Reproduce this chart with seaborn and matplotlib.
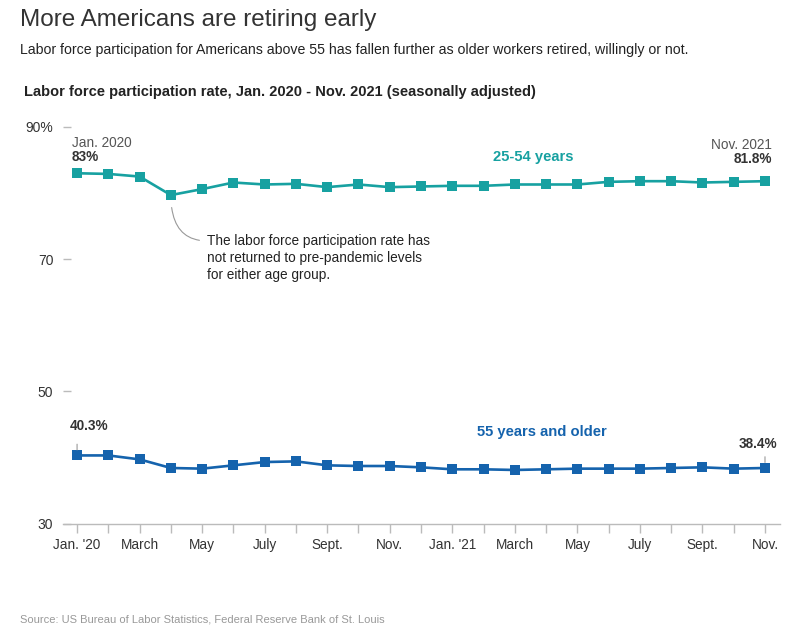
import matplotlib
matplotlib.use('Agg')
import matplotlib.pyplot as plt
import seaborn as sns
import pandas as pd

months = list(range(23))
tick_labels = ["Jan. '20", '', 'March', '', 'May', '', 'July', '', 'Sept.', '', 'Nov.', '',
               "Jan. '21", '', 'March', '', 'May', '', 'July', '', 'Sept.', '', 'Nov.']
prime_age = [83.0, 82.9, 82.5, 79.7, 80.6, 81.6, 81.3, 81.4, 80.9, 81.3, 80.9, 81.0,
             81.1, 81.1, 81.3, 81.3, 81.3, 81.7, 81.8, 81.8, 81.6, 81.7, 81.8]
older = [40.3, 40.3, 39.7, 38.4, 38.3, 38.8, 39.3, 39.4, 38.8, 38.7, 38.7, 38.5,
         38.2, 38.2, 38.1, 38.2, 38.3, 38.3, 38.3, 38.4, 38.5, 38.3, 38.4]
y_ticks = [30, 50, 70, 90]
y_tick_labels = ['30', '50', '70', '90%']

TEAL = '#17a1a1'
BLUE = '#1563ad'
DARK = '#333333'
GRID = '#bbbbbb'

sns.set_style('white')
plt.rcParams['font.family'] = ['Liberation Sans', 'DejaVu Sans']

df = pd.DataFrame({'month': months, 'prime': prime_age, 'older': older})

W, H = 801, 628
fig = plt.figure(figsize=(W / 100, H / 100), dpi=100)
ax = fig.add_axes([63 / W, 1 - 523.5 / H, 717 / W, 396.5 / H])

sns.lineplot(data=df, x='month', y='prime', ax=ax, color=TEAL, linewidth=1.9,
             marker='s', markersize=6.5, markeredgewidth=0)
sns.lineplot(data=df, x='month', y='older', ax=ax, color=BLUE, linewidth=1.9,
             marker='s', markersize=6.5, markeredgewidth=0)

ax.set_xlim(-0.45, 22.48)
ax.set_ylim(30, 90)
ax.set_xlabel('')
ax.set_ylabel('')
ax.set_xticks(months)
ax.set_xticklabels(tick_labels, fontsize=9.8, color=DARK)
ax.set_yticks(y_ticks)
ax.set_yticklabels(y_tick_labels, fontsize=10, color=DARK)
ax.tick_params(axis='x', bottom=True, direction='out', length=6.5, width=1, color=GRID, pad=4)
ax.tick_params(axis='y', left=True, direction='in', length=6, width=1, color=GRID, pad=7)
for s in ['top', 'right', 'left']:
    ax.spines[s].set_visible(False)
ax.spines['bottom'].set_color(GRID)
ax.spines['bottom'].set_linewidth(1)

# value labels
ax.annotate('Jan. 2020', xy=(0, prime_age[0]), xytext=(-4, 22), textcoords='offset points',
            fontsize=9.8, color='#555555', ha='left', va='center')
ax.annotate(f'{prime_age[0]:.0f}%', xy=(0, prime_age[0]), xytext=(-4, 11.5), textcoords='offset points',
            fontsize=9.8, color=DARK, fontweight='bold', ha='left', va='center')
ax.annotate('Nov. 2021', xy=(22, prime_age[-1]), xytext=(5, 26), textcoords='offset points',
            fontsize=9.8, color='#555555', ha='right', va='center')
ax.annotate(f'{prime_age[-1]:.1f}%', xy=(22, prime_age[-1]), xytext=(5, 16), textcoords='offset points',
            fontsize=9.8, color=DARK, fontweight='bold', ha='right', va='center')
ax.annotate(f'{older[0]:.1f}%', xy=(0, older[0]), xytext=(-5.5, 21), textcoords='offset points',
            fontsize=9.8, color=DARK, fontweight='bold', ha='left', va='center')
ax.annotate(f'{older[-1]:.1f}%', xy=(22, older[-1]), xytext=(8.5, 17.5), textcoords='offset points',
            fontsize=9.8, color=DARK, fontweight='bold', ha='right', va='center')
# short leader ticks above the end points
for i, v in [(0, older[0]), (22, older[-1])]:
    ax.annotate('', xy=(i, v), xytext=(i, v + 1.7),
                arrowprops=dict(arrowstyle='-', color='#999999', lw=0.8, shrinkA=0, shrinkB=4))

# series labels
ax.text(14.6, 85.5, '25-54 years', color=TEAL, fontsize=10.6, fontweight='bold', ha='center', va='center')
ax.text(14.87, 43.8, '55 years and older', color=BLUE, fontsize=10.6, fontweight='bold', ha='center', va='center')

# callout
ax.annotate('The labor force participation rate has\nnot returned to pre-pandemic levels\nfor either age group.',
            xy=(3, prime_age[3]), xytext=(4.15, 70.2), fontsize=9.8, color='#222222',
            ha='left', va='center', linespacing=1.3,
            arrowprops=dict(arrowstyle='-', color='#999999', lw=0.8, shrinkA=3, shrinkB=9,
                            relpos=(0, 0.85), connectionstyle='angle3,angleA=0,angleB=90'))

fig.text(20 / W, 1 - 20 / H, 'More Americans are retiring early',
         fontsize=17.5, color=DARK, ha='left', va='center')
fig.text(20 / W, 1 - 50 / H,
         'Labor force participation for Americans above 55 has fallen further as older workers retired, willingly or not.',
         fontsize=10.2, color='#222222', ha='left', va='center')
fig.text(24 / W, 1 - 92 / H, 'Labor force participation rate, Jan. 2020 - Nov. 2021 (seasonally adjusted)',
         fontsize=10.5, fontweight='bold', color='#222222', ha='left', va='center')
fig.text(20 / W, 1 - 619 / H, 'Source: US Bureau of Labor Statistics, Federal Reserve Bank of St. Louis',
         fontsize=8, color='#999999', ha='left', va='center')

fig.savefig('out.png', dpi=100, facecolor='white')
